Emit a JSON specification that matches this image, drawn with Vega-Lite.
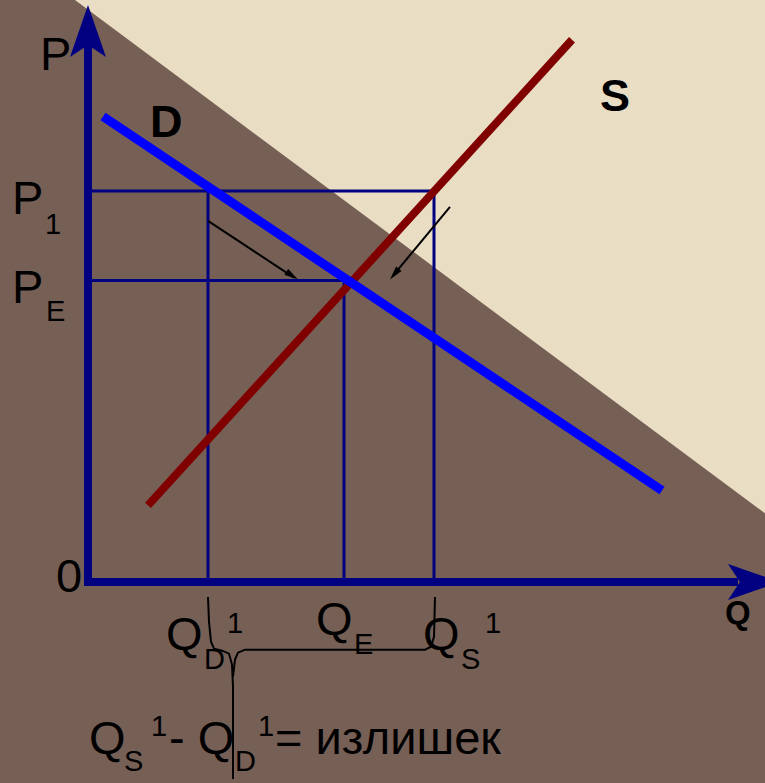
{
  "$schema": "https://vega.github.io/schema/vega-lite/v6.json",
  "width": 765,
  "height": 783,
  "autosize": {"type": "fit", "contains": "padding"},
  "padding": 0,
  "background": "#765f55",
  "config": {"view": {"stroke": null}},
  "layer": [
    {
      "data": {"values": [{"q": -13, "p": 585}, {"q": 677, "p": 69}]},
      "mark": {"type": "area", "color": "#e9ddc4", "clip": true},
      "encoding": {
        "x": {"field": "q", "type": "quantitative", "scale": {"domain": [-88, 677], "nice": false, "zero": false}, "axis": null},
        "y": {"field": "p", "type": "quantitative", "scale": {"domain": [-198, 585], "nice": false, "zero": false}, "axis": null},
        "y2": {"datum": 585}
      }
    },
    {
      "data": {"values": [
        {"q": 0, "p": 393, "q2": 346, "p2": 393},
        {"q": 0, "p": 303, "q2": 256, "p2": 303},
        {"q": 120, "p": 0, "q2": 120, "p2": 393},
        {"q": 256, "p": 0, "q2": 256, "p2": 303},
        {"q": 346, "p": 0, "q2": 346, "p2": 393}
      ]},
      "mark": {"type": "rule", "color": "#000080", "strokeWidth": 3},
      "encoding": {
        "x": {"field": "q", "type": "quantitative", "scale": {"domain": [-88, 677], "nice": false, "zero": false}, "axis": null},
        "y": {"field": "p", "type": "quantitative", "scale": {"domain": [-198, 585], "nice": false, "zero": false}, "axis": null},
        "x2": {"field": "q2"},
        "y2": {"field": "p2"}
      }
    },
    {
      "data": {"values": [{"q": 60, "p": 77, "q2": 484, "p2": 545}]},
      "mark": {"type": "rule", "color": "#800000", "strokeWidth": 8},
      "encoding": {
        "x": {"field": "q", "type": "quantitative", "scale": {"domain": [-88, 677], "nice": false, "zero": false}, "axis": null},
        "y": {"field": "p", "type": "quantitative", "scale": {"domain": [-198, 585], "nice": false, "zero": false}, "axis": null},
        "x2": {"field": "q2"},
        "y2": {"field": "p2"}
      }
    },
    {
      "data": {"values": [{"q": 15, "p": 468, "q2": 574, "p2": 92}]},
      "mark": {"type": "rule", "color": "#0000ff", "strokeWidth": 9},
      "encoding": {
        "x": {"field": "q", "type": "quantitative", "scale": {"domain": [-88, 677], "nice": false, "zero": false}, "axis": null},
        "y": {"field": "p", "type": "quantitative", "scale": {"domain": [-198, 585], "nice": false, "zero": false}, "axis": null},
        "x2": {"field": "q2"},
        "y2": {"field": "p2"}
      }
    },
    {
      "data": {"values": [
        {"q": -4, "p": 0, "q2": 650, "p2": 0},
        {"q": 0, "p": -4, "q2": 0, "p2": 545}
      ]},
      "mark": {"type": "rule", "color": "#000080", "strokeWidth": 8},
      "encoding": {
        "x": {"field": "q", "type": "quantitative", "scale": {"domain": [-88, 677], "nice": false, "zero": false}, "axis": null},
        "y": {"field": "p", "type": "quantitative", "scale": {"domain": [-198, 585], "nice": false, "zero": false}, "axis": null},
        "x2": {"field": "q2"},
        "y2": {"field": "p2"}
      }
    },
    {
      "data": {"values": [{"q": 0, "p": 580, "a": 0}, {"q": 692, "p": 0, "a": 90}]},
      "mark": {"type": "point", "shape": "M0,0 L0.69,2 L0,1.54 L-0.69,2 Z", "filled": true, "color": "#000080", "opacity": 1, "size": 2704, "strokeWidth": 0, "clip": true},
      "encoding": {
        "x": {"field": "q", "type": "quantitative", "scale": {"domain": [-88, 677], "nice": false, "zero": false}, "axis": null},
        "y": {"field": "p", "type": "quantitative", "scale": {"domain": [-198, 585], "nice": false, "zero": false}, "axis": null},
        "angle": {"field": "a", "type": "quantitative", "scale": null}
      }
    },
    {
      "data": {"values": [
        {"q": 120, "p": 363, "q2": 206, "p2": 306},
        {"q": 362, "p": 377, "q2": 305, "p2": 308}
      ]},
      "mark": {"type": "rule", "color": "black", "strokeWidth": 2},
      "encoding": {
        "x": {"field": "q", "type": "quantitative", "scale": {"domain": [-88, 677], "nice": false, "zero": false}, "axis": null},
        "y": {"field": "p", "type": "quantitative", "scale": {"domain": [-198, 585], "nice": false, "zero": false}, "axis": null},
        "x2": {"field": "q2"},
        "y2": {"field": "p2"}
      }
    },
    {
      "data": {"values": [{"q": 210, "p": 304, "a": 123}, {"q": 302, "p": 304, "a": 219}]},
      "mark": {"type": "point", "shape": "M0,0 L0.5,2 L-0.5,2 Z", "filled": true, "color": "black", "opacity": 1, "size": 196, "strokeWidth": 0},
      "encoding": {
        "x": {"field": "q", "type": "quantitative", "scale": {"domain": [-88, 677], "nice": false, "zero": false}, "axis": null},
        "y": {"field": "p", "type": "quantitative", "scale": {"domain": [-198, 585], "nice": false, "zero": false}, "axis": null},
        "angle": {"field": "a", "type": "quantitative", "scale": null}
      }
    },
    {
      "data": {"values": [
        {"g": "a", "o": 1, "q": 120, "p": -15},
        {"g": "a", "o": 2, "q": 121, "p": -40},
        {"g": "a", "o": 3, "q": 123, "p": -60},
        {"g": "a", "o": 4, "q": 126, "p": -67},
        {"g": "a", "o": 5, "q": 134, "p": -69},
        {"g": "a", "o": 6, "q": 141, "p": -72},
        {"g": "a", "o": 7, "q": 144, "p": -83},
        {"g": "a", "o": 8, "q": 145, "p": -105},
        {"g": "a", "o": 9, "q": 145, "p": -198},
        {"g": "b", "o": 1, "q": 145, "p": -95},
        {"g": "b", "o": 2, "q": 147, "p": -78},
        {"g": "b", "o": 3, "q": 150, "p": -71},
        {"g": "b", "o": 4, "q": 157, "p": -68},
        {"g": "b", "o": 5, "q": 337, "p": -68},
        {"g": "b", "o": 6, "q": 343, "p": -65},
        {"g": "b", "o": 7, "q": 346, "p": -55},
        {"g": "b", "o": 8, "q": 347, "p": -15}
      ]},
      "mark": {"type": "line", "color": "black", "strokeWidth": 2},
      "encoding": {
        "x": {"field": "q", "type": "quantitative", "scale": {"domain": [-88, 677], "nice": false, "zero": false}, "axis": null},
        "y": {"field": "p", "type": "quantitative", "scale": {"domain": [-198, 585], "nice": false, "zero": false}, "axis": null},
        "detail": {"field": "g"},
        "order": {"field": "o", "type": "quantitative"}
      }
    },
    {
      "data": {"values": [
        {"t": "P", "q": -48, "p": 515},
        {"t": "P", "q": -76, "p": 370},
        {"t": "P", "q": -76, "p": 280},
        {"t": "0", "q": -32, "p": -10},
        {"t": "Q", "q": 78, "p": -68},
        {"t": "Q", "q": 228, "p": -53},
        {"t": "Q", "q": 335, "p": -68},
        {"t": "Q", "q": 1, "p": -173},
        {"t": "- Q", "q": 81, "p": -173},
        {"t": "= излишек", "q": 187, "p": -173}
      ]},
      "mark": {"type": "text", "align": "left", "baseline": "alphabetic", "font": "Liberation Sans", "fontSize": 47, "color": "black"},
      "encoding": {
        "x": {"field": "q", "type": "quantitative", "scale": {"domain": [-88, 677], "nice": false, "zero": false}, "axis": null},
        "y": {"field": "p", "type": "quantitative", "scale": {"domain": [-198, 585], "nice": false, "zero": false}, "axis": null},
        "text": {"field": "t"}
      }
    },
    {
      "data": {"values": [
        {"t": "1", "q": -43, "p": 350},
        {"t": "E", "q": -42, "p": 262},
        {"t": "D", "q": 116, "p": -87},
        {"t": "1", "q": 139, "p": -51},
        {"t": "E", "q": 266, "p": -72},
        {"t": "S", "q": 373, "p": -87},
        {"t": "1", "q": 397, "p": -51},
        {"t": "S", "q": 36, "p": -190},
        {"t": "1", "q": 63, "p": -155},
        {"t": "D", "q": 147, "p": -190},
        {"t": "1", "q": 170, "p": -155}
      ]},
      "mark": {"type": "text", "align": "left", "baseline": "alphabetic", "font": "Liberation Sans", "fontSize": 29, "color": "black"},
      "encoding": {
        "x": {"field": "q", "type": "quantitative", "scale": {"domain": [-88, 677], "nice": false, "zero": false}, "axis": null},
        "y": {"field": "p", "type": "quantitative", "scale": {"domain": [-198, 585], "nice": false, "zero": false}, "axis": null},
        "text": {"field": "t"}
      }
    },
    {
      "data": {"values": [
        {"t": "D", "q": 62, "p": 447},
        {"t": "S", "q": 512, "p": 473}
      ]},
      "mark": {"type": "text", "align": "left", "baseline": "alphabetic", "font": "Liberation Sans", "fontWeight": "bold", "fontSize": 45, "color": "black"},
      "encoding": {
        "x": {"field": "q", "type": "quantitative", "scale": {"domain": [-88, 677], "nice": false, "zero": false}, "axis": null},
        "y": {"field": "p", "type": "quantitative", "scale": {"domain": [-198, 585], "nice": false, "zero": false}, "axis": null},
        "text": {"field": "t"}
      }
    },
    {
      "data": {"values": [{"t": "Q", "q": 637, "p": -42}]},
      "mark": {"type": "text", "align": "left", "baseline": "alphabetic", "font": "Liberation Sans", "fontWeight": "bold", "fontSize": 33, "color": "black"},
      "encoding": {
        "x": {"field": "q", "type": "quantitative", "scale": {"domain": [-88, 677], "nice": false, "zero": false}, "axis": null},
        "y": {"field": "p", "type": "quantitative", "scale": {"domain": [-198, 585], "nice": false, "zero": false}, "axis": null},
        "text": {"field": "t"}
      }
    }
  ]
}
